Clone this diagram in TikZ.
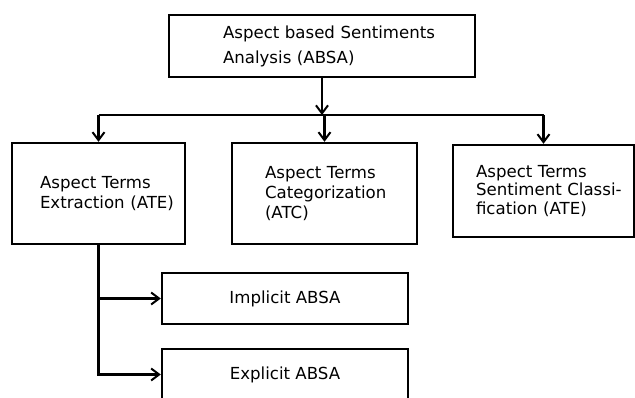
\documentclass[tikz,border=0pt]{standalone}
\usepackage{fontspec}
\setmainfont{DejaVu Sans}
\usetikzlibrary{arrows.meta}

\begin{document}
\begin{tikzpicture}[x=1pt, y=-1pt,
  box/.style={draw, line width=2.4pt, align=left, inner sep=0pt,
    font=\fontsize{16.6}{20}\selectfont,
    execute at begin node={\hyphenpenalty=10000\relax\exhyphenpenalty=10000\relax}},
  arr/.style={line width=2.4pt, -{Straight Barb[length=8pt, width=12pt, line width=2pt]}}]
\useasboundingbox (0,0) rectangle (635,397);
\node[box, minimum width=306pt, minimum height=62pt, text width=198pt,
  font=\fontsize{16.6}{25}\selectfont] (absa) at (322,46) {Aspect~based~Sentiments\\Analysis~(ABSA)};
\node[box, minimum width=173pt, minimum height=101pt, text width=117pt] (ate) at (98.5,193.5) {Aspect~Terms\\Extraction~(ATE)};
\node[box, minimum width=185pt, minimum height=101pt, text width=119pt] (atc) at (324.5,193.5) {Aspect~Terms\\Categorization\\(ATC)};
\node[box, minimum width=181pt, minimum height=92pt, text width=135pt,
  font=\fontsize{16.6}{18.5}\selectfont] (atsc) at (543.5,191) {Aspect~Terms\\Sentiment~Classi-\\fication~(ATE)};
\node[box, minimum width=246pt, minimum height=51pt, align=center] (impl) at (285,298.5) {Implicit ABSA};
\node[box, minimum width=246pt, minimum height=51pt, align=center] (expl) at (285,374.5) {Explicit ABSA};
% branching line
\coordinate (split) at (322,115);
\draw[line width=2.4pt] (ate.north |- split) -- (atsc.north |- split);
\draw[arr] (absa.south) -- (split);
\draw[arr] (ate.north |- split) -- (ate.north);
\draw[arr] (atc.north |- split) -- (atc.north);
\draw[arr] (atsc.north |- split) -- (atsc.north);
% ATE branches
\draw[arr] (ate.south) -- (ate.south |- expl.west) -- (expl.west);
\draw[arr] (ate.south |- impl.west) -- (impl.west);
\end{tikzpicture}
\end{document}
